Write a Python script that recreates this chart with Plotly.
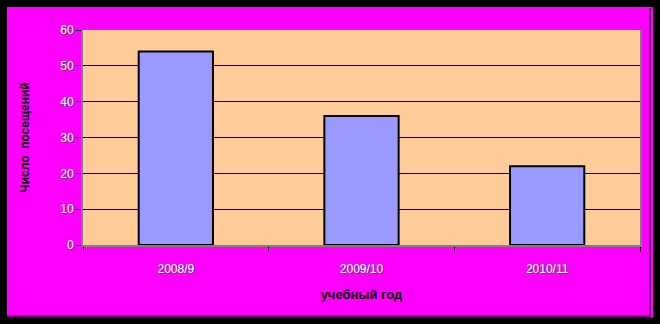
import plotly.graph_objects as go

categories = ["2008/9", "2009/10", "2010/11"]
values = [54, 36, 22]
y_ticks = [0, 10, 20, 30, 40, 50, 60]

fig = go.Figure()
fig.add_trace(go.Bar(
    x=categories, y=values,
    marker=dict(color="#9999FF", line=dict(color="black", width=2)),
    width=0.4,
))

tickfont = dict(family="Liberation Sans, Arial", size=12, color="#ffffff",
                shadow="1px 1px 0px #505050")

fig.update_layout(
    width=660, height=324,
    margin=dict(l=83, r=20, t=30, b=79),
    paper_bgcolor="#FF00FF",
    plot_bgcolor="#FFCC99",
    showlegend=False,
    font=dict(family="Liberation Sans, Arial", color="black"),
    xaxis=dict(
        showgrid=False, showline=True, linecolor="#808080", linewidth=2,
        mirror=False, ticks="outside", tickson="boundaries", ticklen=5,
        tickcolor="black", tickfont=tickfont, ticklabelstandoff=12,
        title=dict(text="<b>учебный год</b>", font=dict(size=13, color="black"), standoff=14),
    ),
    yaxis=dict(
        range=[0, 60], tickvals=y_ticks, showgrid=True, gridcolor="black", gridwidth=1,
        showline=True, linecolor="#808080", linewidth=2, mirror=True,
        ticks="outside", ticklen=5, tickcolor="black", tickfont=tickfont,
        zeroline=False,
        title=dict(text="<b>Число  посещений</b>", font=dict(size=12, color="black"), standoff=28),
    ),
    shapes=[
        dict(type="rect", xref="paper", yref="paper", x0=-83/557, x1=(557+20)/557,
             y0=-79/215, y1=(215+30)/215, line=dict(color="black", width=14),
             fillcolor="rgba(0,0,0,0)", layer="above"),
        dict(type="line", xref="paper", yref="paper", x0=(650-83)/557, x1=(650-83)/557,
             y0=-(316-245)/215, y1=(245-8)/215, line=dict(color="black", width=1)),
        dict(type="line", xref="paper", yref="paper", x0=-76/557, x1=(650-83)/557,
             y0=-(316-245)/215, y1=-(316-245)/215, line=dict(color="black", width=1)),
    ],
)

fig.write_html("out.html")
